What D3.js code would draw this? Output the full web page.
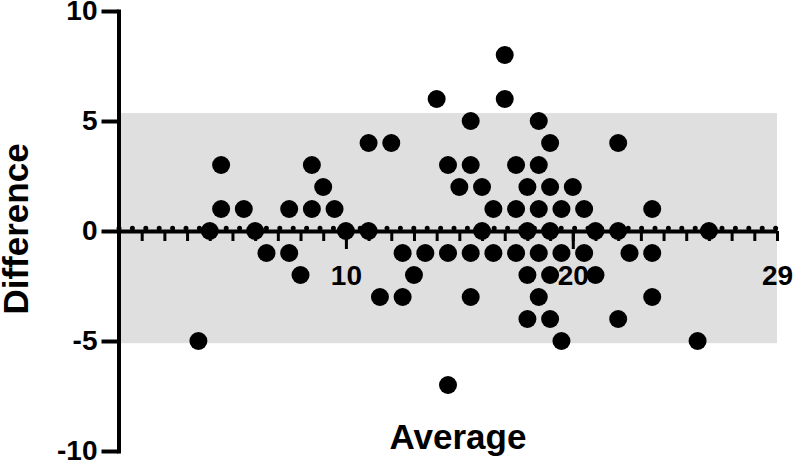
<!DOCTYPE html>
<html>
<head>
<meta charset="utf-8">
<script src="https://cdn.jsdelivr.net/npm/d3@7"></script>
<style>
    body { margin: 0; background: #fff; }
    text { font-family: "Liberation Sans", Arial, sans-serif; font-weight: bold; }
</style>
</head>
<body>
<div id="vis"></div>
<script>
// Bland-Altman data, one array per difference level (x = average)
const diffLevels = [8, 6, 5, 4, 3, 2, 1, 0, -1, -2, -3, -4, -5, -7];
const averagesByDiff = [
    [17],
    [14, 17],
    [15.5, 18.5],
    [11, 12, 19, 22],
    [4.5, 8.5, 14.5, 15.5, 17.5, 18.5],
    [9, 15, 16, 18, 19, 20],
    [4.5, 5.5, 7.5, 8.5, 9.5, 16.5, 17.5, 18.5, 19.5, 20.5, 23.5],
    [4, 6, 10, 11, 16, 18, 19, 21, 22, 26],
    [6.5, 7.5, 12.5, 13.5, 14.5, 15.5, 16.5, 17.5, 18.5, 19.5, 20.5, 22.5, 23.5],
    [8, 13, 18, 19, 21],
    [11.5, 12.5, 15.5, 18.5, 23.5],
    [18, 19, 22],
    [3.5, 19.5, 25.5],
    [14.5]
];

// bias and limits of agreement
const bias = 0.13;
const limits = [-5.1, 5.36];

const yTicks = [-10, -5, 0, 5, 10];
const xMinorTicks = d3.range(1, 30);
const xMajorTicks = [10, 20];
const xLabelTicks = [10, 20, 29];

const points = [];
diffLevels.forEach(function (d, i) {
    averagesByDiff[i].forEach(function (a) {
        points.push({ avg: a, diff: d });
    });
});

const width = 795;
const height = 464;

const svg = d3.select("#vis")
    .append("svg")
    .attr("width", width)
    .attr("height", height);

const x = d3.scaleLinear()
    .domain([0, 29])
    .range([119, 777]);

const y = d3.scaleLinear()
    .domain([-10, 10])
    .range([451, 11]);

// limits of agreement band
svg.append("rect")
    .attr("x", x(0))
    .attr("y", y(limits[1]))
    .attr("width", x(29) - x(0))
    .attr("height", y(limits[0]) - y(limits[1]))
    .attr("fill", "#dfdfdf");

// y axis
const yAxis = svg.append("g")
    .attr("transform", "translate(118.5,0)")
    .call(d3.axisLeft(y)
        .tickValues(yTicks)
        .tickSize(17)
        .tickSizeOuter(0)
        .tickPadding(4)
        .tickFormat(d3.format("d")));

yAxis.select(".domain").attr("stroke-width", 4).attr("stroke-linecap", "square");
yAxis.selectAll(".tick line").attr("stroke-width", 4);
yAxis.selectAll(".tick text")
    .attr("font-size", 28)
    .attr("fill", "#000")
    .text(function (d) { return d < 0 ? "-" + Math.abs(d) : d; });

// x axis at zero, minor ticks
const xAxis = svg.append("g")
    .attr("transform", "translate(0," + y(0) + ")")
    .call(d3.axisBottom(x)
        .tickValues(xMinorTicks)
        .tickSize(10)
        .tickSizeOuter(0)
        .tickFormat(""));

xAxis.select(".domain").attr("stroke-width", 4);
xAxis.selectAll(".tick line").attr("stroke-width", 3);

// major ticks
const xMajor = svg.append("g")
    .attr("transform", "translate(0," + y(0) + ")")
    .call(d3.axisBottom(x)
        .tickValues(xMajorTicks)
        .tickSize(18)
        .tickFormat(""));

xMajor.select(".domain").remove();
xMajor.selectAll(".tick line").attr("stroke-width", 3);

// tick labels
const xLabels = svg.append("g")
    .attr("transform", "translate(0," + y(0) + ")")
    .call(d3.axisBottom(x)
        .tickValues(xLabelTicks)
        .tickSize(0)
        .tickPadding(34));

xLabels.select(".domain").remove();
xLabels.selectAll(".tick text")
    .attr("font-size", 28)
    .attr("fill", "#000");

// bias line (dotted)
svg.append("line")
    .attr("x1", x(0))
    .attr("x2", x(29))
    .attr("y1", y(bias))
    .attr("y2", y(bias))
    .attr("stroke", "#000")
    .attr("stroke-width", 5)
    .attr("stroke-linecap", "round")
    .attr("stroke-dasharray", "0 13.4");

// points
svg.append("g")
    .selectAll("circle")
    .data(points)
    .enter()
    .append("circle")
    .attr("cx", function (d) { return x(d.avg); })
    .attr("cy", function (d) { return y(d.diff); })
    .attr("r", 9)
    .attr("fill", "#000");

// axis titles
svg.append("text")
    .attr("x", 458)
    .attr("y", 449)
    .attr("text-anchor", "middle")
    .attr("font-size", 35)
    .text("Average");

svg.append("text")
    .attr("transform", "translate(28,229) rotate(-90)")
    .attr("text-anchor", "middle")
    .attr("font-size", 35)
    .text("Difference");
</script>
</body>
</html>
